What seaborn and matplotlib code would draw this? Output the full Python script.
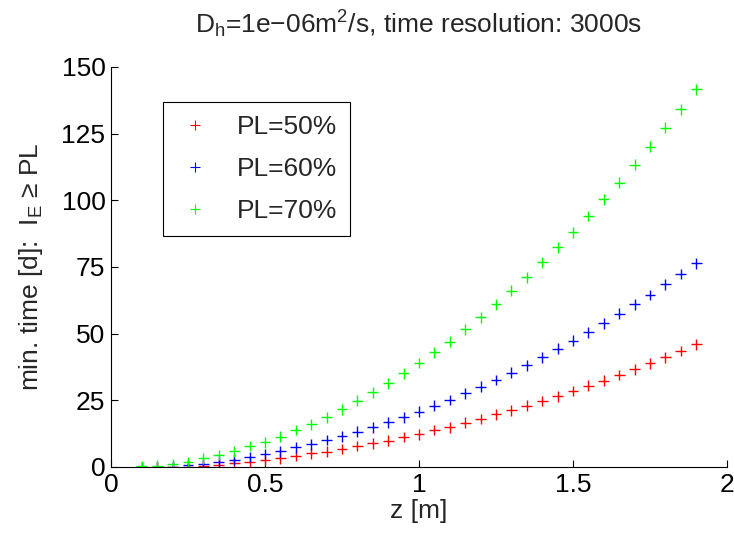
import numpy as np
import pandas as pd
import matplotlib
matplotlib.use("Agg")
import matplotlib.pyplot as plt
import seaborn as sns
from matplotlib.lines import Line2D

z = [0.10, 0.15, 0.20, 0.25, 0.30, 0.35, 0.40, 0.45, 0.50, 0.55,
     0.60, 0.65, 0.70, 0.75, 0.80, 0.85, 0.90, 0.95, 1.00, 1.05,
     1.10, 1.15, 1.20, 1.25, 1.30, 1.35, 1.40, 1.45, 1.50, 1.55,
     1.60, 1.65, 1.70, 1.75, 1.80, 1.85, 1.90]

pl50 = [0.0, 0.0, 0.0, 0.1, 0.5, 0.9, 1.4, 2.0, 2.6, 3.25,
        4.1, 5.1, 5.75, 6.75, 7.9, 8.9, 9.9, 11.25, 12.3, 13.9,
        14.9, 16.6, 18.0, 19.8, 21.3, 23.0, 24.75, 26.5, 28.5, 30.5,
        32.4, 34.5, 36.6, 38.9, 41.2, 43.5, 46.0]
pl60 = [0.0, 0.0, 0.1, 0.6, 1.1, 2.0, 2.75, 3.75, 4.9, 5.95,
        7.4, 8.5, 10.1, 11.5, 13.2, 14.9, 16.8, 18.6, 20.8, 23.0,
        25.1, 27.6, 30.1, 32.6, 35.4, 38.2, 41.1, 44.3, 47.3, 50.5,
        53.9, 57.5, 61.0, 64.5, 68.5, 72.4, 76.4]
pl70 = [0.25, 0.5, 1.1, 1.9, 3.2, 4.5, 5.9, 7.9, 9.3, 11.4,
        13.9, 16.0, 18.6, 21.6, 24.8, 28.0, 31.4, 35.1, 39.0, 43.0,
        47.0, 51.6, 56.1, 61.0, 66.1, 71.2, 76.8, 82.4, 88.0, 94.1,
        100.4, 106.6, 113.4, 120.1, 127.2, 134.2, 141.7]

labels = ["PL=50%", "PL=60%", "PL=70%"]
colors = ["#ff0000", "#0000ff", "#00ff00"]
xticks = [0, 0.5, 1, 1.5, 2]
xticklabels = ["0", "0.5", "1", "1.5", "2"]
yticks = [0, 25, 50, 75, 100, 125, 150]

df = pd.concat([
    pd.DataFrame({"z": z, "t": vals, "PL": lab})
    for vals, lab in zip([pl50, pl60, pl70], labels)
], ignore_index=True)

sns.set_style("ticks")
plt.rcParams["font.family"] = ["Liberation Sans", "DejaVu Sans"]
plt.rcParams["mathtext.fontset"] = "custom"
plt.rcParams["mathtext.rm"] = "Liberation Sans"
plt.rcParams["mathtext.it"] = "Liberation Sans:italic"
plt.rcParams["axes.unicode_minus"] = True

fs = 19
fig = plt.figure(figsize=(7.34, 5.38), dpi=100)
ax = fig.add_axes([111/734, 1 - 467/538, 616/734, 400/538])

sns.scatterplot(data=df, x="z", y="t", hue="PL", palette=colors,
                marker="+", s=60, linewidth=1.0, legend=False, ax=ax)

ax.set_xlim(0, 2)
ax.set_ylim(0, 150)
ax.set_xticks(xticks)
ax.set_xticklabels(xticklabels)
ax.set_yticks(yticks)
ax.tick_params(direction="in", length=5, width=0.8, labelsize=fs, pad=4, colors="black")
for s in ["top", "right"]:
    ax.spines[s].set_visible(False)
for s in ["left", "bottom"]:
    ax.spines[s].set_linewidth(0.8)
    ax.spines[s].set_color("black")

ax.set_xlabel("z [m]", fontsize=fs, labelpad=2)
ax.set_ylabel("min. time [d]:  I$_\\mathrm{E}$ ≥ PL", fontsize=fs, labelpad=12)
ax.set_title("D$_\\mathrm{h}$=1e\u221206m$^\\mathrm{2}$/s, time resolution: 3000s",
             fontsize=fs, pad=24)

handles = [Line2D([], [], linestyle="", marker="+", color=c, markersize=7,
                  markeredgewidth=0.8) for c in colors]
leg = ax.legend(handles, labels, loc="upper left", bbox_to_anchor=(0.0844, 0.9125),
                borderaxespad=0, fancybox=False, frameon=True, edgecolor="black",
                fontsize=fs, handlelength=1.4, handletextpad=0.9, borderpad=0.5,
                labelspacing=0.68, framealpha=1)
leg.get_frame().set_linewidth(0.8)

fig.savefig("out.png", dpi=100)
